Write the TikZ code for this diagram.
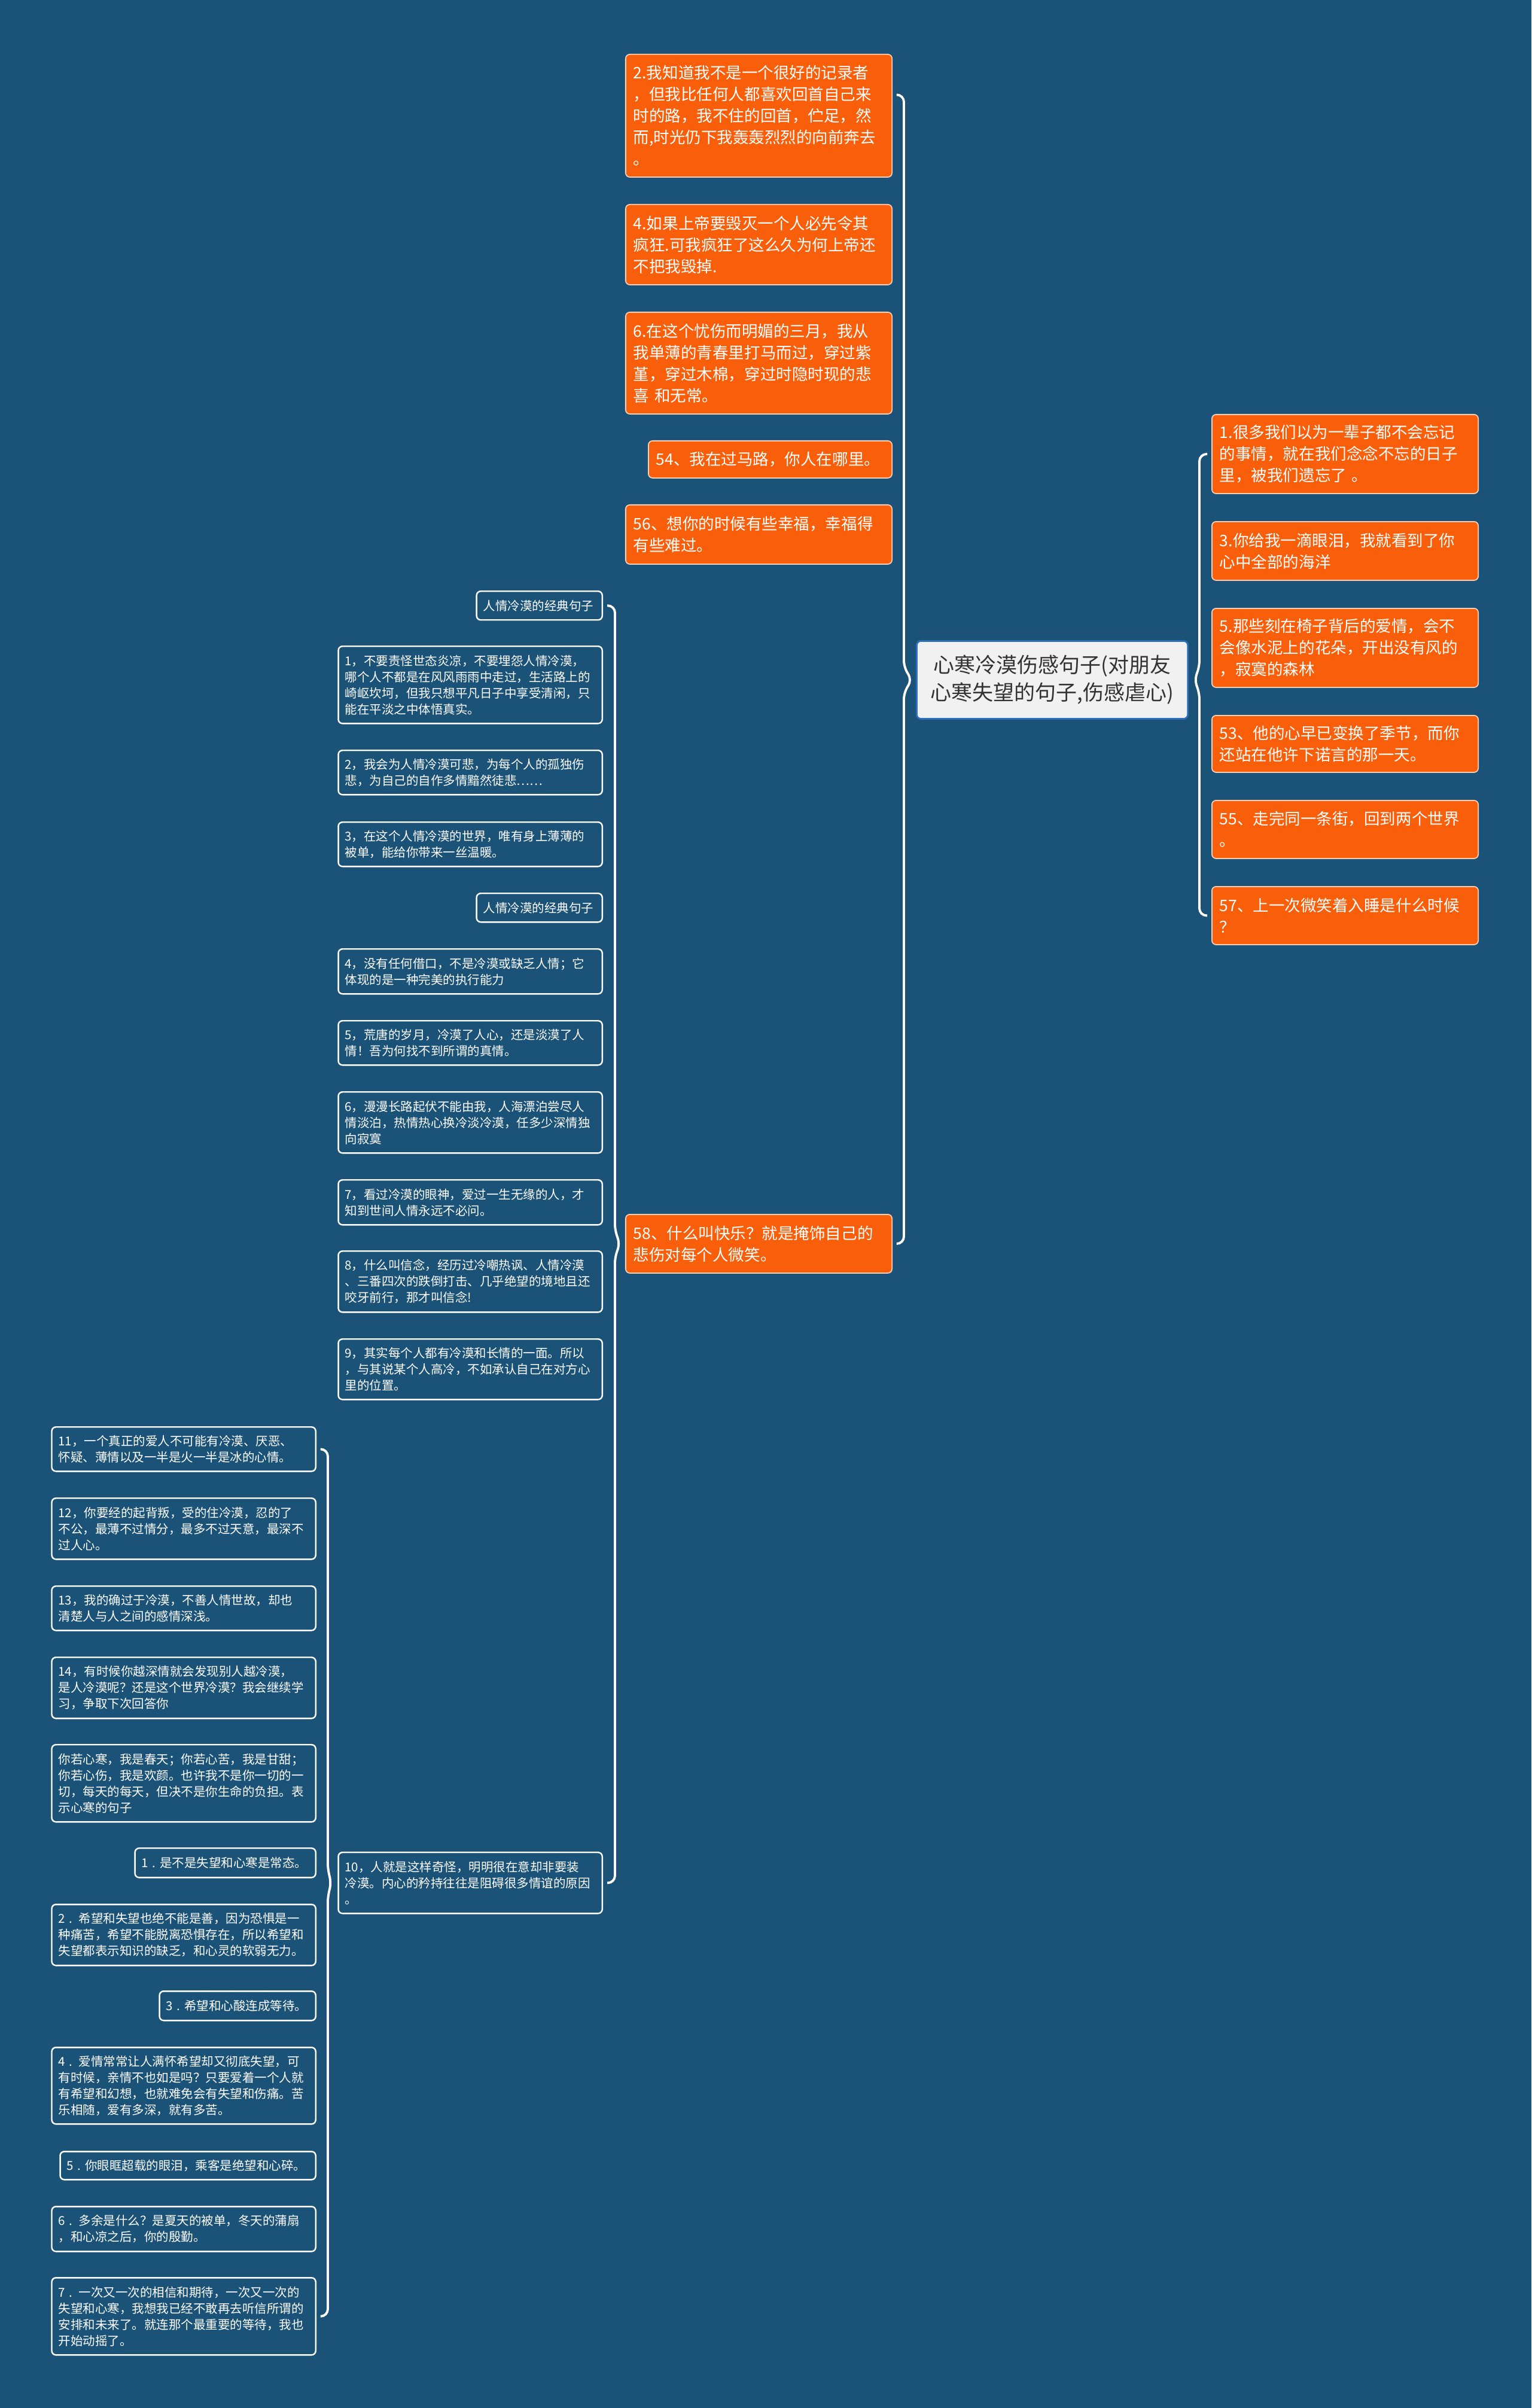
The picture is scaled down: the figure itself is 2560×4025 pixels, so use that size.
\documentclass[tikz,border=0pt]{standalone}
\usepackage{fontspec}
\setmainfont{Noto Sans CJK SC}
\usepackage{tikz}
\usetikzlibrary{calc}
\usepackage{xcolor}
\definecolor{mapbg}{RGB}{27,82,120}
\definecolor{maporange}{RGB}{249,94,10}
\definecolor{rootfill}{RGB}{241,241,241}
\definecolor{rootline}{RGB}{46,110,186}
\definecolor{roottext}{RGB}{51,51,51}

\tikzset{
  topic/.style={rounded corners=0.07cm, align=left, inner xsep=0.11cm, inner ysep=0.04cm},
  orangebox/.style={topic, fill=maporange, draw=white!70!maporange, line width=0.5pt,
    text=white, inner xsep=0.13cm, minimum width=4.45cm, text width=4.19cm,
    font=\fontsize{7.54pt}{10.24pt}\selectfont},
  bluebox/.style={topic, fill=mapbg, draw=white, line width=0.7pt,
    text=white, minimum width=4.41cm, text width=4.19cm,
    font=\fontsize{5.83pt}{7.68pt}\selectfont},
  rootbox/.style={rounded corners=0.07cm, align=center, fill=rootfill, draw=rootline,
    line width=0.8pt, text=roottext, minimum width=4.53cm, minimum height=1.30cm,
    font=\fontsize{9.96pt}{13.1pt}\selectfont},
  lhs/.style={anchor=north east},
  rhs/.style={anchor=north west},
  brace/.style={draw=white, line width=1.1pt, rounded corners=0.12cm},
}

\begin{document}
\begin{tikzpicture}[x=0.01cm,y=-0.01cm]
  \fill[mapbg] (0,0) rectangle (2560,4025);
  \useasboundingbox (0,0) rectangle (2560,4025);

  % root
  \node[rootbox,anchor=north west] (root) at (1531,1070)
    {心寒冷漠伤感句子(对朋友\\心寒失望的句子,伤感虐心)};

  % right side
  \node[orangebox,rhs,minimum height=1.32cm] (r1) at (2025,692)
    {1.很多我们以为一辈子都不会忘记\\的事情，就在我们念念不忘的日子\\里，被我们遗忘了 。};
  \node[orangebox,rhs,minimum height=0.98cm] (r3) at (2025,871)
    {3.你给我一滴眼泪，我就看到了你\\心中全部的海洋};
  \node[orangebox,rhs,minimum height=1.32cm] (r5) at (2025,1016)
    {5.那些刻在椅子背后的爱情，会不\\会像水泥上的花朵，开出没有风的\\，寂寞的森林};
  \node[orangebox,rhs,minimum height=0.95cm] (r53) at (2025,1195)
    {53、他的心早已变换了季节，而你\\还站在他许下诺言的那一天。};
  \node[orangebox,rhs,minimum height=0.97cm] (r55) at (2025,1337)
    {55、走完同一条街，回到两个世界\\。};
  \node[orangebox,rhs,minimum height=0.97cm] (r57) at (2025,1481)
    {57、上一次微笑着入睡是什么时候\\？};

  % left side, orange
  \node[orangebox,lhs,minimum height=2.05cm] (n2) at (1492,90)
    {2.我知道我不是一个很好的记录者\\，但我比任何人都喜欢回首自己来\\时的路，我不住的回首，伫足，然\\而,时光仍下我轰轰烈烈的向前奔去\\。};
  \node[orangebox,lhs,minimum height=1.34cm] (n4) at (1492,341)
    {4.如果上帝要毁灭一个人必先令其\\疯狂.可我疯狂了这么久为何上帝还\\不把我毁掉.};
  \node[orangebox,lhs,minimum height=1.70cm] (n6) at (1492,521)
    {6.在这个忧伤而明媚的三月，我从\\我单薄的青春里打马而过，穿过紫\\堇，穿过木棉，穿过时隐时现的悲\\喜 和无常。};
  \node[orangebox,lhs,minimum width=4.07cm,text width=3.81cm,minimum height=0.62cm] (n54) at (1492,736)
    {54、我在过马路，你人在哪里。};
  \node[orangebox,lhs,minimum height=0.99cm] (n56) at (1492,843)
    {56、想你的时候有些幸福，幸福得\\有些难过。};
  \node[orangebox,lhs,minimum height=0.98cm] (n58) at (1492,2029)
    {58、什么叫快乐？就是掩饰自己的\\悲伤对每个人微笑。};

  % under 58
  \node[bluebox,lhs,minimum width=2.10cm,text width=1.88cm,minimum height=0.48cm] (h1) at (1008,987)
    {人情冷漠的经典句子};
  \node[bluebox,lhs,minimum height=1.29cm] (l1) at (1008,1079)
    {1，不要责怪世态炎凉，不要埋怨人情冷漠，\\哪个人不都是在风风雨雨中走过，生活路上的\\崎岖坎坷，但我只想平凡日子中享受清闲，只\\能在平淡之中体悟真实。};
  \node[bluebox,lhs,minimum height=0.74cm] (l2) at (1008,1253)
    {2，我会为人情冷漠可悲，为每个人的孤独伤\\悲，为自己的自作多情黯然徒悲……};
  \node[bluebox,lhs,minimum height=0.74cm] (l3) at (1008,1373)
    {3，在这个人情冷漠的世界，唯有身上薄薄的\\被单，能给你带来一丝温暖。};
  \node[bluebox,lhs,minimum width=2.10cm,text width=1.88cm,minimum height=0.48cm] (h2) at (1008,1492)
    {人情冷漠的经典句子};
  \node[bluebox,lhs,minimum height=0.75cm] (l4) at (1008,1585)
    {4，没有任何借口，不是冷漠或缺乏人情；它\\体现的是一种完美的执行能力};
  \node[bluebox,lhs,minimum height=0.74cm] (l5) at (1008,1705)
    {5，荒唐的岁月，冷漠了人心，还是淡漠了人\\情！吾为何找不到所谓的真情。};
  \node[bluebox,lhs,minimum height=1.02cm] (l6) at (1008,1824)
    {6，漫漫长路起伏不能由我，人海漂泊尝尽人\\情淡泊，热情热心换冷淡冷漠，任多少深情独\\向寂寞};
  \node[bluebox,lhs,minimum height=0.75cm] (l7) at (1008,1971)
    {7，看过冷漠的眼神，爱过一生无缘的人，才\\知到世间人情永远不必问。};
  \node[bluebox,lhs,minimum height=1.02cm] (l8) at (1008,2090)
    {8，什么叫信念，经历过冷嘲热讽、人情冷漠\\、三番四次的跌倒打击、几乎绝望的境地且还\\咬牙前行，那才叫信念!};
  \node[bluebox,lhs,minimum height=1.01cm] (l9) at (1008,2237)
    {9，其实每个人都有冷漠和长情的一面。所以\\，与其说某个人高冷，不如承认自己在对方心\\里的位置。};
  \node[bluebox,lhs,minimum height=1.02cm] (l10) at (1008,3095)
    {10，人就是这样奇怪，明明很在意却非要装\\冷漠。内心的矜持往往是阻碍很多情谊的原因\\。};

  % under 10
  \node[bluebox,lhs,minimum height=0.74cm] (f11) at (529,2384)
    {11，一个真正的爱人不可能有冷漠、厌恶、\\怀疑、薄情以及一半是火一半是冰的心情。};
  \node[bluebox,lhs,minimum height=1.02cm] (f12) at (529,2503)
    {12，你要经的起背叛，受的住冷漠，忍的了\\不公，最薄不过情分，最多不过天意，最深不\\过人心。};
  \node[bluebox,lhs,minimum height=0.74cm] (f13) at (529,2650)
    {13，我的确过于冷漠，不善人情世故，却也\\清楚人与人之间的感情深浅。};
  \node[bluebox,lhs,minimum height=1.02cm] (f14) at (529,2769)
    {14，有时候你越深情就会发现别人越冷漠，\\是人冷漠呢？还是这个世界冷漠？我会继续学\\习，争取下次回答你};
  \node[bluebox,lhs,minimum height=1.29cm] (fy) at (529,2915)
    {你若心寒，我是春天；你若心苦，我是甘甜；\\你若心伤，我是欢颜。也许我不是你一切的一\\切，每天的每天，但决不是你生命的负担。表\\示心寒的句子};
  \node[bluebox,lhs,minimum width=3.02cm,text width=2.80cm,minimum height=0.49cm] (f1) at (529,3088)
    {1~.~是不是失望和心寒是常态。};
  \node[bluebox,lhs,minimum height=1.02cm] (f2) at (529,3182)
    {2 . 希望和失望也绝不能是善，因为恐惧是一\\种痛苦，希望不能脱离恐惧存在，所以希望和\\失望都表示知识的缺乏，和心灵的软弱无力。};
  \node[bluebox,lhs,minimum width=2.61cm,text width=2.39cm,minimum height=0.49cm] (f3) at (529,3327)
    {3~.~希望和心酸连成等待。};
  \node[bluebox,lhs,minimum height=1.28cm] (f4) at (529,3421)
    {4 . 爱情常常让人满怀希望却又彻底失望，可\\有时候，亲情不也如是吗？只要爱着一个人就\\有希望和幻想，也就难免会有失望和伤痛。苦\\乐相随，爱有多深，就有多苦。};
  \node[bluebox,lhs,minimum width=4.27cm,text width=4.05cm,minimum height=0.47cm] (f5) at (529,3595)
    {5~.~你眼眶超载的眼泪，乘客是绝望和心碎。};
  \node[bluebox,lhs,minimum height=0.75cm] (f6) at (529,3687)
    {6 . 多余是什么？是夏天的被单，冬天的蒲扇\\，和心凉之后，你的殷勤。};
  \node[bluebox,lhs,minimum height=1.29cm] (f7) at (529,3806)
    {7 . 一次又一次的相信和期待，一次又一次的\\失望和心寒，我想我已经不敢再去听信所谓的\\安排和未来了。就连那个最重要的等待，我也\\开始动摇了。};

  % braces
  \coordinate (bR) at (2005,0);
  \coordinate (bL) at (1511,0);
  \coordinate (b58) at (1028,0);
  \coordinate (b10) at (548,0);

  \draw[brace] ([xshift=-.07cm]r1.west) -| ([yshift=.2cm]bR |- root.east)
    -- ([xshift=.09cm]root.east) -- ([yshift=-.2cm]bR |- root.east) |- ([xshift=-.07cm]r57.west);
  \draw[brace] ([xshift=.07cm,yshift=.35cm]n2.east) -| ([yshift=.2cm]bL |- root.west)
    -- ([xshift=-.06cm]root.west) -- ([yshift=-.2cm]bL |- root.west) |- ([xshift=.07cm]n58.east);
  \draw[brace] ([xshift=.07cm]h1.east) -| ([yshift=.2cm]b58 |- n58.west)
    -- ([xshift=-.08cm]n58.west) -- ([yshift=-.2cm]b58 |- n58.west) |- ([xshift=.07cm]l10.east);
  \draw[brace] ([xshift=.07cm]f11.east) -| ([yshift=.2cm]b10 |- l10.west)
    -- ([xshift=-.1cm]l10.west) -- ([yshift=-.2cm]b10 |- l10.west) |- ([xshift=.07cm]f7.east);
\end{tikzpicture}
\end{document}
